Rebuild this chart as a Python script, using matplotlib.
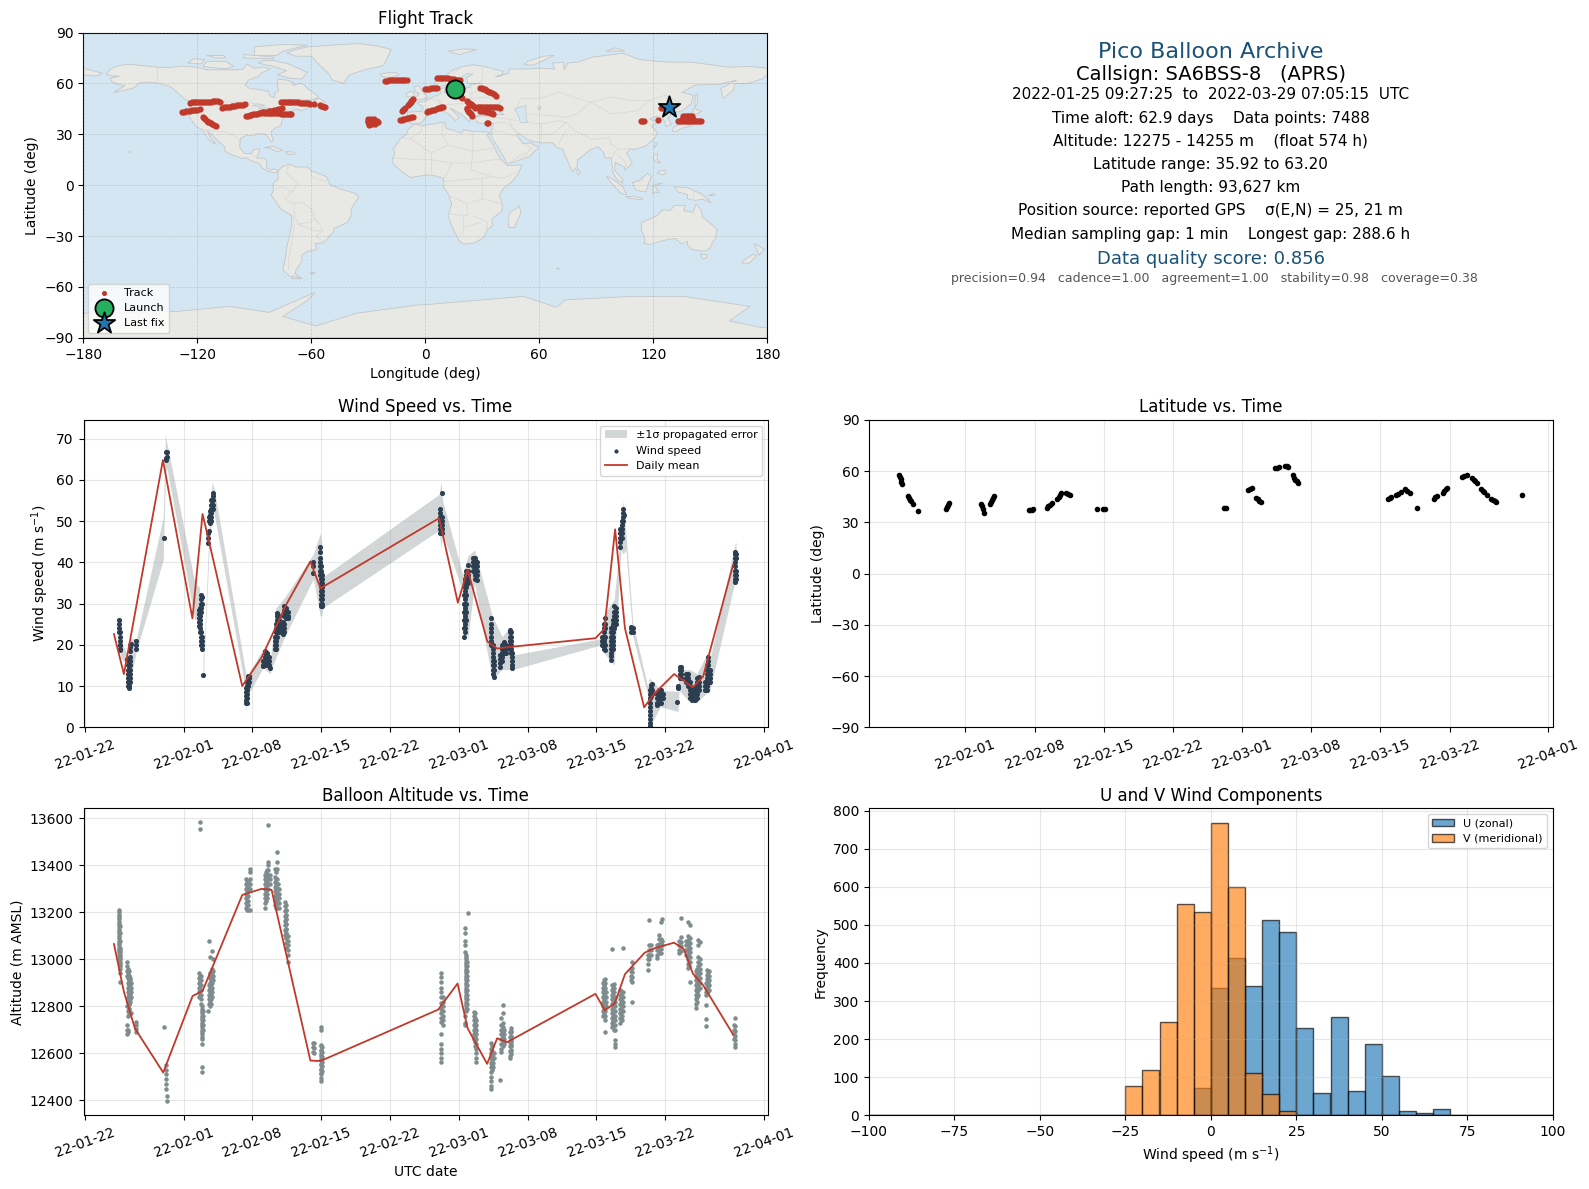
from datetime import datetime
import matplotlib
matplotlib.use("Agg")
import matplotlib.pyplot as plt
import matplotlib.dates as mdates
from matplotlib.patches import Polygon

W, H = 1589, 1189
OCEAN = "#d4e6f1"
LAND = "#e8e8e4"
COAST = "#c3c7c9"
BORDER = "#d9dad8"
RED = "#c0392b"
NAVY = "#2c3e50"
GREY = "#7f8c8d"
TITLE_BLUE = "#1a5276"

# ---- land outlines (lon, lat) ----
north_america = [(-168,65.5),(-166,68.3),(-162,70.3),(-156.5,71.3),(-148,70.4),(-141,69.6),(-135,69.3),(-128,70.2),(-120,69.5),(-115,68),(-108,68),(-100,68),(-96,68.3),(-94,71.5),(-90,69),(-85,69.5),(-81.5,68.5),(-86,66.3),(-88,64),(-93,62),(-94.8,59),(-92.5,57),(-88,56.5),(-82.5,55.2),(-82,52.9),(-79.5,51.3),(-79,54.5),(-77,56),(-78,58.7),(-77.5,62.4),(-73,62),(-70,61),(-69.5,58.8),(-65,60.2),(-61.5,56.5),(-57,53),(-56,51.7),(-60,50.2),(-65.5,50.2),(-67,49),(-64.5,49),(-65,47),(-61,46),(-65.5,43.7),(-67,45),(-70,43.8),(-70.5,41.7),(-74,40.5),(-75.5,38),(-76,35),(-78.5,33.9),(-81,32),(-81,29.5),(-80,26.5),(-81,25.2),(-82.7,28),(-84,30),(-89,30.3),(-90,29),(-94,29.5),(-97.3,27.5),(-97.7,22.5),(-95.5,18.8),(-91.5,18.5),(-90.5,21),(-87,21.5),(-88,18),(-88.8,15.9),(-84,15.8),(-83.3,12),(-83.7,10),(-81,9),(-79.5,9.6),(-77.4,8.7),(-78,7.4),(-80,7.3),(-81,7.8),(-83,8.2),(-85.8,10),(-87.5,13),(-91,14),(-94,16),(-97,15.9),(-102,18),(-105.5,20),(-105.5,22.5),(-109,26),(-112.5,30),(-114.8,31.7),(-113,28),(-110,24),(-112,25),(-115,28),(-117.1,32.5),(-120.5,34.5),(-122.5,37.5),(-124.3,40.3),(-124,46),(-122.5,48.5),(-127,51),(-130.5,54.5),(-134,58),(-140,60),(-146,60.8),(-151,60),(-153,57.5),(-158,56),(-164,54.7),(-158,58.7),(-162,59.5),(-165,61),(-166,63),(-161,64.2),(-165,64.5)]
south_america = [(-77.3,8.7),(-75,11),(-71.5,12.4),(-68,10.7),(-62,10.7),(-60,8.5),(-52,5),(-50,0),(-44,-2.5),(-37,-4.8),(-35,-7),(-39,-14),(-39,-18),(-41,-22),(-48,-25.5),(-48.7,-28),(-53.5,-34),(-58,-34.5),(-57,-38),(-62,-39),(-65,-41),(-65,-45),(-68,-50),(-68.5,-52.5),(-65,-55),(-70,-55),(-75,-50),(-73.5,-42),(-73,-37),(-70.5,-25),(-70.3,-18),(-76,-14),(-81,-6),(-80,-2.5),(-80,1),(-77.5,3.8),(-77.5,7)]
africa = [(-6,35.8),(-1,35.2),(10,37.2),(11,33.5),(15,32.3),(19,30.5),(20,32.7),(25,31.7),(31,31.5),(34,31),(32.5,29.5),(35.5,24),(37.3,20),(39.5,15.5),(43,12),(43.5,11.5),(51,12),(49,7),(46,2.5),(41,-2),(39,-6),(40.5,-11),(40.5,-15),(35,-20),(35.5,-24),(32.8,-26),(30.5,-31),(26,-34),(20,-34.8),(18,-33),(15,-27),(12,-18),(13.8,-11),(12,-5),(9.5,-1),(9.5,4),(5,5.5),(1,6),(-4,5.2),(-8,4.5),(-13,8.5),(-16.8,12.5),(-17.3,15),(-16,19),(-17,21),(-13,27.5),(-9.8,30),(-9,33)]
eurasia = [(-9,37),(-9.3,43),(-2,43.5),(-1,46),(-4.5,48.5),(1,50),(4,52),(8,54),(8.3,57),(10.5,57.5),(10,54.5),(14,54),(19,54.5),(21,57),(24,58),(24,59.5),(30,60),(22.5,60),(21.5,63),(25,65.5),(22,65.8),(17.5,62),(18.5,60),(16,56.3),(13,55.5),(11,59),(7,58),(5,60),(5.5,62),(10,64),(14,67.5),(18,69.5),(25,71),(31,70),(41,67),(40,64.5),(37,64),(44,66),(44,68.5),(54,68.5),(60,69),(68,68.5),(67,72),(73,72.5),(73,68),(75,72),(80,72.5),(88,75.5),(104,77.7),(113,74),(128,72.5),(140,72.5),(160,69.5),(170,70),(180,69),(180,65),(177,62.5),(170,60),(163,60),(162,56),(156.7,51),(155.5,57),(164,62),(155,59.5),(142,59),(135,54.7),(141,53),(140,48),(135,43.7),(130,42.5),(127.5,39.5),(129.5,36),(126.5,34.5),(126,37.5),(124.5,40),(121.5,39),(122,40.7),(118,39),(122.5,37),(119,35),(122,31),(121,28),(116,23),(110,21),(108,21.7),(106,19),(109,13),(105,8.7),(105,10.5),(100,13.5),(99.5,9),(103.5,4),(104,1.3),(101,3),(98.5,8),(98,16),(94.5,16),(94,19),(91,22.7),(87,21),(82,16.5),(80,15),(80,11),(77.5,8),(73,19),(72.5,21),(69,22.3),(67,25),(61.5,25),(57,25.7),(54,26.7),(50,30),(48,30),(50,26.5),(51.5,24.5),(56,25),(56.5,24),(59.8,22.5),(55,17),(45,13),(43,13),(39,21),(35,28),(34.7,31),(36,36.5),(30,36.3),(27,37),(26.5,40),(29,41),(35,42),(41.5,41.5),(37,45),(33,45),(30.5,46.5),(28,43),(28.5,41),(24,40.7),(23,37.5),(19.5,41.5),(13,45.5),(18,40),(16,38),(12,42),(8.5,44.3),(3,43),(0,39.7),(-2,36.8),(-5.5,36)]
chukotka = [(-180,65),(-173,64.3),(-170,66),(-175,67.5),(-180,69)]
australia = [(114,-22),(113.5,-26),(115.7,-32),(115,-34.3),(118,-35),(124,-33),(129,-31.7),(131.5,-31.5),(135,-34.7),(138,-33),(138,-35.5),(140.5,-38),(144,-38.5),(146.5,-39),(150,-37.3),(151,-34),(153,-31),(153.5,-26),(150,-22.5),(146,-19),(145.3,-15),(142.5,-10.8),(141,-16),(136,-15),(136.8,-12),(131,-12),(129,-15),(125,-14.5),(122,-18),(117,-20.5)]
antarctica = [(-180,-90),(-180,-75.4),(-131,-74.5),(-103,-71.5),(-82,-75),(-70,-69),(-58,-63.3),(-62,-68),(-75,-77.4),(-57.5,-83),(-36,-75.5),(-3,-70.5),(0,-70.5),(51.6,-65.6),(69,-72),(74,-67.6),(108,-65.6),(136,-65.6),(171,-71.5),(160,-80),(177,-84),(180,-84),(180,-90)]
greenland = [(-73,78),(-68,76),(-60,76),(-55,70),(-51,66),(-49,62),(-43,60),(-40,65),(-32,68),(-22,70.5),(-20,75),(-18,80),(-25,82),(-35,83.5),(-50,82.5),(-62,81.5),(-68,80)]
islands = [
    [(-80,73.5),(-72,71.5),(-62,66.5),(-65,62.5),(-71,63),(-78,65),(-73,67.5),(-80,70),(-88,72),(-85,73.5)],
    [(-117,70),(-105,68.5),(-101,70),(-105,73),(-115,73)],
    [(-125,72),(-118,71.5),(-116,74),(-122,74.5)],
    [(-90,76.5),(-78,76.5),(-75,79),(-62,82.5),(-75,83),(-90,81.5)],
    [(-96,75),(-80,74.5),(-80,75.5),(-95,77)],
    [(-110,75),(-105,75),(-106,76.5),(-115,76.5)],
    [(-59,47.7),(-53,46.8),(-53,49),(-56,51.5),(-58,50)],
    [(-85,22),(-80,23),(-75,20.5),(-78,19.8),(-82,22)],
    [(-74,19.8),(-69,19.5),(-68.5,18.5),(-72,18)],
    [(-24,65.5),(-20,66.2),(-15,66.3),(-13.7,65),(-18.5,63.5),(-22.5,64)],
    [(-156,20),(-155,19.5),(-155.8,19)],
    [(-5.5,50),(1.3,51.2),(0,53.5),(-2,56),(-3,58.6),(-6,58),(-5,55),(-3.2,54),(-5,52)],
    [(-10,52),(-6,52.2),(-6,55),(-8.5,55),(-10,54)],
    [(12,79),(20,80.3),(27,80),(18,77)],
    [(52,71),(57,70.8),(68,76.5),(62,76),(54,73)],
    [(95,79),(105,79),(100,81)],
    [(142,46),(143.5,49),(143,54),(142,53)],
    [(130,32),(131.5,31.3),(135,33.5),(140,35),(142,39.5),(141,41.5),(139.5,38.5),(136,36.5),(132,35),(130.5,33.8)],
    [(140,42),(141.5,45.5),(145.3,43.5),(143,42)],
    [(120.2,23),(121,22),(122,25),(121,25.2)],
    [(120,16),(120.5,18.5),(122.2,18.3),(122,15),(124,13),(121,13.7)],
    [(122,7),(126,6),(126.5,9),(123.5,8.5)],
    [(95.3,5.5),(98,4),(104,-1),(106,-5.8),(103,-4.8),(100,-1.5),(97,2.5)],
    [(105.5,-6.8),(110,-6.5),(114.5,-7.7),(114,-8.6),(108,-7.8)],
    [(109,1.5),(113,3),(117,7),(119,5),(117.5,1),(116,-4),(111,-3),(109.5,0)],
    [(119.5,-5.5),(120,0),(125,1.5),(121,-1),(123,-4.5),(121,-4)],
    [(131,-1),(138,-1.5),(145,-5),(147,-6.5),(150.5,-10.5),(146,-8.3),(142,-9),(138,-8),(138,-5.5),(133,-4)],
    [(173,-34.5),(178.5,-37.7),(175.3,-41.5),(174.7,-38.5)],
    [(172.7,-40.7),(174.3,-41.7),(170.5,-46),(166.7,-46),(168,-44)],
    [(144.7,-40.7),(148.3,-40.9),(148,-43),(146,-43.5)],
    [(49.3,-12),(50.4,-16),(47,-25),(44,-25),(43.5,-21),(44.5,-16),(48,-13.5)],
    [(80,9.7),(81.8,7.5),(80.6,6),(79.8,7.5)],
    [(-61,-51.8),(-58,-51.5),(-59,-52.3)],
    [(69,-49),(70.5,-49),(70,-49.7)],
    [(-70,-53.5),(-65,-55),(-70,-55)],
    [(152,-4.5),(152,-6),(149,-6)],
]
lakes = [
    [(47,45),(53,47),(53,40),(54,37),(50,37),(49,41)],
    [(-88,48),(-84.5,47),(-87,46.5),(-91,46.8)],
    [(-87.5,45.5),(-82,45.5),(-82,43.5),(-87,42)],
    [(59,46),(61,46.5),(60,44)],
]
borders = [
    [(-123,49),(-95,49),(-89,48),(-83,45.5),(-82.5,42),(-76,44),(-71,45),(-67,47)],
    [(-141,69.6),(-141,60),(-134,58)],
    [(-117,32.5),(-108,31.5),(-106,31.7),(-101,29.5),(-97.3,26)],
    [(-91,17.5),(-88.5,16)],
    [(-72,12),(-73,7),(-67,1),(-70,-4),(-74,-8),(-69,-11),(-65,-10),(-60,-14),(-58,-20),(-55,-24),(-54,-27),(-57.5,-30),(-53.5,-33.5)],
    [(-70,-18),(-69,-23),(-70,-33),(-72,-44),(-72,-50)],
    [(-60,8),(-60,5),(-52,2)],
    [(-80,-3),(-75,-1),(-70,-4)],
    [(-69,-11),(-69,-18),(-67,-23),(-62,-22),(-58,-20)],
    [(-67,-23),(-58,-27),(-54,-27)],
    [(-13,27.5),(-8,27.5),(-5,25),(3,19),(12,23.5),(25,20),(37,22)],
    [(-2,35),(-2,32),(-8,27.5)],
    [(9,37),(9,30),(12,23.5)],
    [(25,31.7),(25,20),(24,9),(35,5),(41,4),(48,8)],
    [(-16,16),(-5,15),(3,15),(14,13),(24,13),(36,15),(39,15)],
    [(3,19),(3,6)],[(14,13),(10,4)],[(9.5,2),(18,3),(30,4),(35,5)],
    [(30,4),(30,-8),(22,-11),(12,-6)],[(30,-8),(40,-11)],
    [(22,-11),(22,-18),(12,-17)],[(20,-18),(20,-28),(17,-29)],[(25,-18),(33,-22),(32,-26)],[(20,-25),(29,-22)],
    [(-2,43.3),(3,42.5)],[(-9,42),(-7,37)],[(3,51),(8,49),(7.5,47.5),(13,47.5),(17,48),(23,48),(30,46)],
    [(7,53.5),(6,51),(8,49)],[(14,54),(15,51),(24,51),(24,54)],[(24,54),(28,56),(28,60)],[(24,51),(32,52),(40,50),(38,47)],
    [(30,70),(30,62),(28,60)],[(18,69),(13,64),(12,59)],
    [(26,41),(44,39),(48,38)],[(36,36.5),(42,37),(45,35),(48,30)],[(35,31),(39,32),(47,29)],[(44,39),(46,34),(52,28)],
    [(52,17),(56,22),(52,24)],[(44,13),(52,19)],
    [(48,45),(50,51),(60,51),(70,55),(80,51),(87,49)],[(54,37),(61,36),(61,30),(61,25)],[(61,36),(70,38),(74,37)],
    [(61,30),(67,30),(71,34),(74,37)],[(54,42),(67,41),(74,40),(80,42),(87,49)],[(74,37),(79,32),(88,27),(97,28)],
    [(70,24),(74,32)],[(87,49),(98,52),(108,50),(118,50),(126,53),(135,48),(131,43)],[(87,49),(98,42),(112,44),(118,50)],
    [(97,28),(98,24),(102,21),(108,21.7)],[(98,16),(100,20),(102,21)],[(101,18),(105,14),(106,11)],[(124.5,40),(130,42.5)],[(125,38),(128.5,38.5)],
    [(141,-3),(141,-9)],[(115,3),(110,1.5)],
]

# ---- flight track (lon, lat) ----
track_points = [
    (-124,48.7),(-123,48.8),(-122,48.9),(-121,48.9),(-120,48.9),(-119,49),(-118,49),(-117,49),(-116,49.1),(-115,49.1),(-114,49.2),(-113,49.3),(-112,49.5),(-111,49.5),(-110,49.6),(-109,49.4),(-108.3,49.2),
    (-128,43.3),(-127,43.4),(-126,43.6),(-125,43.8),(-124,44),(-123,44.1),(-122,44.3),(-121,44.4),(-120,44.6),(-118.7,44.8),
    (-117.2,39.9),(-116.6,39.3),(-116,38.8),(-115,37.8),(-114.4,37.4),(-113.8,37),(-113,36.6),(-112.5,36.2),(-111.3,35.6),(-110.2,35),
    (-107,45.7),(-106,45.8),(-105,45.9),(-104,46),(-103,46.2),(-102,46.4),(-101,46.6),(-100,46.8),(-99,47),(-98,47.2),(-97,47.4),(-96,47.5),(-95,47.7),
    (-94.4,40.8),(-93.5,41),(-92.5,41.3),(-91.5,41.5),(-90.5,41.7),(-89.5,42),(-88.5,42.2),(-87.5,42.4),(-86.5,42.6),(-85.5,42.9),(-84.5,43.1),(-83.5,43.4),(-82.5,43.6),(-81.5,43.8),(-80.5,44),(-79.5,44.2),(-78.5,44.5),(-77.5,44.8),(-76.5,45.1),(-75.6,45.3),
    (-86,43),(-85,42.8),(-84,42.6),(-83,42.7),(-82,42.8),(-81,42.7),(-80,42.6),(-79,42.5),(-78,42.4),(-77,42.3),(-76,42.2),(-75,42.1),(-74,42),(-73,42),(-72,41.9),(-71,41.8),(-70.5,41.8),
    (-76,49),(-75,49),(-74,49),(-73,49),(-72,49),(-71,49),(-70,49),(-69,49),(-68,48.9),(-67,48.8),(-66,48.6),(-65,48.5),(-64,48.4),(-63,48.3),(-62,48.2),(-60.8,48),
    (-58.4,47.7),(-55.4,47),(-54.8,46.8),(-54.2,46.6),(-53.5,46.3),(-52.9,46),
    (-21,61.4),(-20,61.6),(-19,61.7),(-18,61.8),(-17,61.8),(-16,61.8),(-15,61.8),(-14,61.8),(-13,61.8),(-12,61.8),(-11,61.8),(-9.6,61.8),
    (-30,39),(-28.5,39),(-27,39),(-30,38),(-28.5,38),(-27,38),(-25.5,38),(-30,37),(-28.5,37),(-27,37),(-25.5,37),(-24.9,37.5),(-29.5,35.7),(-28,35.8),(-26.5,35.8),
    (-13.3,38.5),(-12.4,38.7),(-11.5,39),(-10.5,39.2),(-9.5,39.5),(-8.5,39.8),(-7.5,40.1),(-6.4,40.3),
    (-12.4,43.8),(-12,44.2),(-11.6,44.5),(-11.2,44.9),(-10.8,45.3),
    (-9,47.3),(-8.6,48),(-8.2,48.6),(-7.7,49.1),(-7.3,49.6),(-6.8,50),(-6.4,50.5),
    (0,56.5),(1,56.7),(2,56.8),(3,57),(4,57.2),(5,57.3),(6,57.5),
    (6,63),(7,63),(8,63),(9,63),(10,63),(11,63),(12,62.9),(13,62.8),(14,62.7),(15,62.5),(16,62.2),(17,62),(18.5,61.8),
    (0.8,43.4),(1.6,43.7),(2.5,44),(3.5,44.2),(4.5,44.5),(5.5,44.9),(6.5,45.2),(7.5,45.5),(8.5,45.8),(9.5,46),
    (18,52.6),(19,52),(19.5,51.5),
    (21.8,49.6),(22.4,49),(23,48.5),(23.8,47.8),(24.5,47),(25.2,46.4),(26,45.7),
    (21.8,45.3),(22.1,44.7),(22.5,44),(22.9,43.2),(23.3,42.5),(23.8,41.7),(24.4,40.8),
    (27,46),(28,46),(29,46),(30,46),(31,46),(32,46),(33,46),(34,46),(35,46),(36,46),(37,45.9),(38,45.8),(39.3,45.7),
    (29,43.8),(30,43.6),(31,43.5),(32,43.3),(33,43.2),(34,42.8),(35,42.5),(35.8,41.8),
    (29,57.5),(29.8,57.1),(30.5,56.8),(31.2,56.4),(32,56),(32.7,55.6),(33.5,55.2),(34.2,54.7),(35,54.2),(36,53.5),(37,52.7),
    (32.3,36.5),(32.8,36.5),
    (113.5,38),(114.3,38),(115,38),(122.6,38.5),(123.9,45.4),(125,45.4),
    (133,37.9),(134,37.9),(135,37.9),(136,37.8),(137,37.8),(138,37.8),(139,37.9),(140,37.8),(141,37.8),(142,37.8),(143,37.9),(144,37.9),(145,37.9),
    (135,39),(136,39),(137,39),(138,39),(139,39),(140,39),(141,39),
    (135.5,40.6),(136.5,40.7),(137.5,40.7),(138.5,40.7),(139.5,40.7),(140.5,40.7),
]
launch_lon, launch_lat = 15.8, 56.5
last_lon, last_lat = 128.4, 46.1

# ---- time series, x = days since 2022-01-22 ----
wind_columns = [
    (3.46,[26,25,24,23.2]),(3.52,[23,22,21,20]),(3.58,[20,19,18.7]),(4.2,[16.5]),
    (4.38,[15,14,13,12,11,10]),(4.45,[16,15,14,13,12,11,10,9.6]),(4.52,[17,16,15,14,13,12,11]),
    (4.6,[20,19.5,18.5]),(4.68,[20.3]),(5.15,[21,20,19]),(8.03,[46]),(8.2,[66.8,65.2,64.8]),(8.28,[66.8,65.6]),
    (11.6,[26.5,25.5,24.5,27.5,28.5]),(11.72,[23,24,25,26,27,28,29]),(11.8,[32,31,30,29,28,23,22,21,20]),
    (11.9,[31.5,30,22,21,20,19]),(12.0,[12.8]),(12.52,[44.8,46,47]),(12.62,[47.5,50,51]),
    (12.7,[49.5,50.5,51.5,52.5]),(12.82,[50,51,52,53,54,55]),(12.95,[53,54,55,56,56.7]),
    (16.35,[5.8,6.5,7.5,8.5,9.5]),(16.42,[6,7,8,9,10,11]),(16.55,[10,11,12,12.4]),(16.7,[11,12,12.5]),
    (18.1,[15,16,14.9]),(18.3,[15,16,17,18,18.4]),(18.5,[15,16,17,18]),(18.65,[15,16,17]),(18.75,[14.3]),
    (19.3,[19,20,21,22]),(19.4,[19,20,21,22,23,24,25]),(19.55,[22,23,24,25,26,27,27.6]),(19.7,[23,24,25,26,27]),
    (20.1,[22.5,23.5,24.5,25.5]),(20.25,[23,24,25,27,28,28.5,29.3]),(20.4,[26.5,27,28,29]),(20.6,[26.5,27,28]),
    (23.2,[37.5,39,40]),(23.9,[43.8,42.5,41,40,39,38,37]),(24.0,[39,38,37,36,35,34,33,32,31,30,29.5]),
    (24.1,[37,36,35,34,33,32,31,30,29.5]),
    (36.1,[47,48,49,50,51,52,53]),(36.25,[56.7,51,50,49,48,47]),
    (38.5,[22,24,26,28,30,32]),(38.6,[23,24,25,26,27,28,29,30,31,32,33,34,35,36]),(38.75,[26,28,30,32,34,35,36,37,38]),
    (38.9,[35,36,37,38,39.4]),(39.4,[38,39,40,41]),(39.6,[36,37,38,39,40,41]),(39.8,[35.7,37,38,39,40]),
    (41.3,[26.4,25,24,23,22,21,20]),(41.45,[20,19,18,17,16,15,14,13]),(41.55,[12.3,14,15,16]),
    (42.2,[14.7,15.5,16.5,17.5]),(42.4,[16,17,18,19,20]),(42.6,[18,19,20,20.8]),(42.75,[18,19,20]),
    (43.2,[19,20,21,22,23,23.6]),(43.35,[18,19,20,21,22,23]),(43.45,[14.3,15,16,17,18]),
    (52.6,[20,21,22]),(52.75,[19,20,21,22,23,24,25]),(52.9,[18.8,20,22,24,25,26.4]),
    (53.5,[16.3,17.2,18,19,20,21,22,23,24]),(53.65,[19,20,21,22,23,24,25,26]),(53.8,[24,25,26,27,28,29.3]),(53.95,[25,26,27,28,29]),
    (54.4,[43.8,45,46,47,48]),(54.55,[46,47,48,49,50]),(54.7,[50,51,52,53]),(54.8,[51.5]),
    (55.55,[23.2,24,24.4]),(55.7,[23.2,24]),
    (57.4,[0.2,1,2,3,4,5,6,7,8,9]),(57.55,[7.5,8.5,9.5,10.3]),(57.7,[8,9,10.5]),
    (58.2,[5.4,6,7,8]),(58.4,[6,7,8,9]),(58.6,[6,7,8,9]),(58.75,[7,8]),
    (60.2,[6.2]),(60.3,[9.5,10]),(60.5,[12,13,14,14.7]),(60.65,[12,13,14,14.7]),
    (61.1,[11,12,13]),(61.3,[10,11,12,13]),(61.5,[7,8,9,10,11]),(61.7,[6.6,7.5,8.5,9.5]),
    (62.0,[6.6,7.5,8.5,9.5]),(62.2,[7,8,9,10,11,12]),(62.4,[9,10,11,12.3]),
    (63.0,[9,10,11]),(63.2,[9,10,11,12,13,14,15]),(63.35,[11,12,13,14,15,16,17.1]),(63.5,[11,12,13,14]),
    (66.05,[35.3,36,37,38,39,40,41,42,42.6]),(66.15,[36,37,38,41,42]),
]
band_days = [3.45,3.6,4.2,4.35,4.55,5.2,7.93,8.15,8.3,11.15,11.6,11.9,12.0,12.6,12.9,13.1,16.3,16.35,16.6,18.1,18.8,19.4,20.3,23.2,23.9,24.05,24.2,36.0,36.2,36.35,38.4,38.9,39.6,41.4,42.4,43.3,43.5,52.5,52.8,53.8,54.5,54.7,55.0,55.7,57.2,57.4,58.5,60.3,60.4,61.5,62.2,63.3,63.5,66.0,66.2]
band_hi = [28,21,18,13,21.5,21.5,51,71,69,35,34,23,14.5,48,59.5,58,13.5,10,13,19,16,29,31.5,42,47,45,36.5,56.5,59.5,55,37,41.5,43,27,22,24.5,17.5,21.5,27.5,31,48,55,47,25.5,10,12,9,8.7,14,14,13,18,16,43.5,45]
band_lo = [22,17,15,9.5,11,18.5,40.6,61,63,26,27,19,11.5,43,52,52,9,4,8,14.5,13,17,22,36,27,27,29,47.8,43.5,47,33,21,35,11.5,14,14,14,20,18,15,43,42,43,22,8,0,5,3.8,9,6,6,8.5,8.5,34.5,35]
mean_days_wind = [2.92,3.93,7.9,10.9,11.93,12.44,15.97,17.93,20.5,22.9,23.93,36.0,37.9,38.9,40.9,41.9,42.9,51.9,52.8,53.9,54.9,56.85,57.9,59.9,61.8,62.85,65.9]
mean_wind = [22.6,12.9,64.8,26.4,51.7,46.6,10,16.9,30,40.2,33.7,50.7,30.2,38.2,20.8,19.1,19.4,21.6,23.8,48,24,4.85,8.2,12.9,9.7,12.3,39.4]

alt_columns = [
    (3.42,[13210,13190,13170,13150,13130,13110,13090,13070,13050,13030]),(3.46,[13200,13180,13160,13140,13120,13100,13080,13060,13040,13020,13000]),(3.5,[13140,13110,13080,13050,13030,13010,12990,12970]),(3.58,[13040,13020,13000,12980,12960,12940,12905]),
    (4.25,[12990,12970,12950,12930,12680,12700,12720,12800]),(4.35,[12960,12940,12920,12900,12880,12860,12840,12820,12800,12780,12760,12700,12690]),(4.4,[12950,12930,12910,12890,12870,12850,12830,12810,12790,12770]),
    (4.45,[12930,12910,12890,12870,12850,12830,12810,12790]),(4.55,[12920,12900,12880,12860,12840,12820,12770]),(4.6,[12910,12890,12870,12850,12830]),(4.65,[12900,12880,12860,12840,12770]),
    (5.2,[12735,12720,12705,12690]),(8.03,[12710]),(8.2,[12550,12530,12510,12490,12470,12450]),(8.3,[12420,12395]),
    (11.66,[13583,13553]),(11.6,[12940,12920,12900,12880,12860,12840]),(11.68,[12930,12910,12890,12870,12850]),(11.75,[12930,12910,12890,12870,12850,12830,12810]),
    (11.83,[12800,12780,12760,12740,12720,12700,12680,12660,12640,12540,12522]),(11.9,[12790,12770,12750,12730,12710,12690,12670]),(11.95,[12780,12760,12740,12720,12700]),
    (12.6,[13080]),(12.85,[13035]),(12.7,[13010]),(12.95,[13000]),(12.5,[12778]),
    (12.55,[12890,12870,12850,12830,12810]),(12.7,[12940,12920,12900,12880,12860,12840,12820,12800]),(12.78,[12930,12910,12890,12870,12850,12830,12810]),(12.85,[12960,12940,12920,12900,12880,12860,12840]),(13,[12950,12930,12910]),
    (16.4,[13340,13320,13300,13280,13260,13240,13220]),(16.48,[13330,13310,13290,13270,13250,13230,13210]),(16.55,[13330,13310,13290,13270,13250,13230,13210]),(16.75,[13385,13370,13340,13320,13300,13210]),
    (18.3,[13360,13340,13320,13300,13280,13260,13240,13217]),(18.38,[13370,13350,13330,13310,13290,13270,13250]),(18.45,[13380,13360,13340,13320,13300,13280,13260]),(18.6,[13570,13415,13400,13380,13360,13340,13320,13300]),(18.8,[13360,13340,13320]),
    (19.5,[13458,13413]),(19.35,[13385,13350,13330,13310,13290,13270,13250,13230]),(19.45,[13370,13340,13320,13300,13280,13260,13240,13220]),(19.55,[13385,13340,13320,13300,13280,13260,13240,13220]),(19.65,[13320,13300,13280,13260,13240]),(19.75,[13300,13280,13260,13240,13220]),
    (20.3,[13245,13225,13205,13185,13165,13145,13125,13105]),(20.38,[13230,13210,13190,13170,13150,13130,13110,13090]),(20.45,[13210,13190,13170,13150,13130,13110,13090,13070,13050]),(20.6,[13100,13080,13060,13040,13020,12990]),
    (23.15,[12642,12625,12605]),(23.3,[12642,12622,12600]),(23.95,[12713,12700,12635,12615,12595,12575,12555,12535,12515,12495,12480]),(24.02,[12630,12610,12590,12570,12550,12530,12510]),(24.1,[12625,12605,12585,12565,12545,12525]),
    (36.2,[12940,12925,12905,12880,12860,12840,12815,12790,12770,12750,12735,12680,12640,12620,12600,12580,12565]),(36.35,[12840,12820,12800,12780,12760,12740,12720]),
    (38.9,[13196]),(38.6,[13132,13110,13080,13060,13033,12760,12730,12720]),(38.7,[13020,13000,12980,12960,12940,12920,12900,12880,12860,12840,12820,12800,12780]),(38.78,[13010,12990,12970,12950,12930,12910,12890,12870,12850,12830,12810,12790]),(38.85,[12990,12970,12950,12930,12910,12890,12870,12850,12830,12810,12790]),
    (39.5,[12777,12760,12740,12720,12700,12680,12660]),(39.6,[12770,12750,12730,12710,12690,12670,12650,12630]),(39.7,[12740,12720,12700,12680,12660,12640,12620,12600,12580,12565]),
    (41.25,[12642,12620,12600,12580,12560,12540,12520,12500,12480,12460,12450]),(41.35,[12630,12610,12590,12570,12550,12530]),(41.45,[12600,12580,12560,12540]),(41.6,[12600,12580]),(42.2,[12486]),
    (42.3,[12750,12720,12700,12680,12660,12640,12620,12607]),(42.45,[12806,12770,12730,12710,12690,12670,12650,12630]),(42.6,[12700,12680,12660,12640]),
    (43.2,[12690,12670,12650,12630,12610,12590,12580]),(43.28,[12695,12675,12655,12635,12615,12595]),(43.35,[12706,12690,12670,12650,12630,12610]),
    (52.7,[12900,12880,12860,12840,12820,12800,12780,12760]),(52.78,[12910,12890,12870,12850,12830,12810,12790,12770]),(52.85,[12918,12900,12880,12860,12840,12820,12800,12780,12760,12740,12690]),(53.0,[12860,12840,12820,12800]),
    (53.6,[13045,12890,12870,12850,12830,12810,12790,12770,12750,12730,12710]),(53.68,[12880,12860,12840,12820,12800,12780,12760,12740,12720]),(53.75,[12897,12880,12860,12840,12820,12800,12780,12760,12740,12720,12700]),(53.9,[12840,12820,12800,12780,12760,12740,12720,12700,12657,12640,12628]),
    (54.4,[12870,12850,12830,12810,12790,12770,12750,12730]),(54.48,[12865,12845,12825,12805,12785,12765,12745]),(54.55,[12860,12840,12820,12800,12780,12760,12740]),(54.75,[13050,12860,12840,12820,12800,12780]),
    (55.5,[12950,12930,12910]),(55.6,[12990,12965,12945,12925,12905,12820]),
    (57.2,[13020,13000,12980,12955]),(57.35,[13166,13060,13040,13020,13000]),(57.5,[13060,13040,13020]),
    (58.2,[13060,13040,13020,13005]),(58.35,[13105,13085,13065,13045,13025]),(58.55,[13160,13085,13065,13045,13025]),(58.65,[13170,13080,13060]),
    (60.4,[13080,13060,13040,13025]),(60.6,[13175,13096,13075,13055,13035]),(61.15,[13080,13060,13040,13020]),(61.3,[13160,13100,13080,13060,13040,13020,13000,12980,12962]),(61.4,[13090,13070,13050,13030,13010,12990,12970]),
    (61.5,[13145,13090,13070,13050,13030,13010,12990,12905]),(62.1,[12950,12930,12910,12890,12870,12850,12830,12810,12792]),(62.2,[12960,12940,12920,12900,12880,12860,12840,12820]),(62.3,[13082,13060,13010,12990,12970,12950,12930,12910,12890,12870,12850]),(62.5,[13075,13000,12980,12960,12940,12920,12900,12880]),
    (63.1,[12900,12880,12860,12850,12805,12745,12715]),(63.2,[12955,12935,12915,12895,12875,12855]),(63.3,[12945,12925,12905,12885,12865]),(63.4,[12950,12930,12910,12890,12870]),
    (66.0,[12721,12700,12680,12660]),(66.1,[12750,12715,12695,12675,12655,12640,12628]),
]
mean_days_alt = [2.92,3.93,5.05,7.93,10.92,11.93,15.97,17.93,18.95,22.9,23.93,35.9,37.87,38.9,40.88,41.9,42.9,51.9,52.85,53.86,54.9,56.9,57.9,59.9,60.9,61.8,62.85,65.9]
mean_alt = [13065,12862,12706,12518,12844,12865,13274,13300,13296,12569,12567,12786,12897,12706,12555,12664,12647,12853,12783,12812,12937,13028,13047,13071,13043,12940,12890,12680]

lat_points = [
    (3.3,57.5),(3.37,56.4),(3.45,55.2),(3.52,53.8),(3.6,52.5),(4.2,45.5),(4.3,44.4),(4.4,43.4),(4.5,42.4),(4.65,40.8),(5.2,36.5),
    (8,38),(8.1,39.2),(8.2,40.4),(8.3,41.6),(11.55,40.8),(11.65,39.4),(11.75,38),(11.9,35.7),(12.5,40.8),(12.6,42),(12.7,43.3),(12.8,44.5),(12.9,45.7),
    (16.4,37),(16.55,37.2),(16.7,37.4),(16.8,37.6),(18.25,38.6),(18.4,39.4),(18.6,40.3),(18.75,41.2),(19.3,43.5),(19.45,45),(19.6,46),(19.7,47),(20.15,47),(20.4,46.6),(20.6,46),
    (23.3,37.6),(23.9,38),(24.1,38),(36.2,38.2),(36.35,38.2),(38.65,49),(38.8,49.5),(39,50),(39.45,44.5),(39.6,43.5),(39.75,42.8),(39.9,42),
    (41.35,61.8),(41.5,62),(41.7,62.2),(42.3,63),(42.5,62.8),(42.65,62.4),(43.2,57.5),(43.3,56.2),(43.4,55),(43.55,54),(43.65,53),
    (52.8,43.5),(52.95,44.1),(53.1,44.7),(53.6,46),(53.8,46.8),(54.05,47.8),(54.5,49.6),(54.7,48.5),(54.95,47),(55.75,38.2),
    (57.4,44),(57.55,44.7),(57.7,45.5),(58.3,47.5),(58.45,48.5),(58.6,49.3),(58.75,50.2),(60.3,56.5),(60.5,57.1),(60.75,57.8),
    (61.25,56),(61.45,55),(61.6,54),(61.75,53),(62.2,49.6),(62.35,48.6),(62.5,47.8),(62.75,46),(63.2,44),(63.4,43.4),(63.55,42.8),(63.7,42),(66.3,46),
]

# ---- histogram, 5 m/s bins ----
bin_edges = list(range(-100, 105, 5))
u_lefts = [-10,-5,0,5,10,15,20,25,30,35,40,45,50,55,60,65]
u_counts = [0,71,334,413,339,512,481,229,58,258,63,187,102,10,5,16]
v_lefts = [-25,-20,-15,-10,-5,0,5,10,15,20]
v_counts = [78,118,246,555,534,768,599,112,55,12]

info_lines = [
    ("Pico Balloon Archive", 16, TITLE_BLUE, 51.7, 1210.5),
    ("Callsign: SA6BSS-8   (APRS)", 14, "black", 74, 1210.5),
    ("2022-01-25 09:27:25  to  2022-03-29 07:05:15  UTC", 11, "black", 94.7, 1210.7),
    ("Time aloft: 62.9 days    Data points: 7488", 11, "black", 118, 1210.7),
    ("Altitude: 12275 - 14255 m    (float 574 h)", 11, "black", 141, 1210.7),
    ("Latitude range: 35.92 to 63.20", 11, "black", 164.5, 1210.7),
    ("Path length: 93,627 km", 11, "black", 187.5, 1210.7),
    ("Position source: reported GPS    σ(E,N) = 25, 21 m", 11, "black", 211, 1210.7),
    ("Median sampling gap: 1 min    Longest gap: 288.6 h", 11, "black", 234, 1210.7),
    ("Data quality score: 0.856", 13, TITLE_BLUE, 258.5, 1210.7),
    ("precision=0.94   cadence=1.00   agreement=1.00   stability=0.98   coverage=0.38", 9, "#555555", 279, 1214),
]
tick_dates = [(2022,1,22),(2022,2,1),(2022,2,8),(2022,2,15),(2022,2,22),(2022,3,1),(2022,3,8),(2022,3,15),(2022,3,22),(2022,4,1)]

day0 = mdates.date2num(datetime(2022, 1, 22))
def to_x(days):
    return [day0 + d for d in days]

def expand(columns):
    xs, ys = [], []
    for d, vals in columns:
        for v in vals:
            xs.append(day0 + d)
            ys.append(v)
    return xs, ys

def axes_px(left, top, width, height):
    return fig.add_axes([left / W, 1 - (top + height) / H, width / W, height / H])

def time_axis(ax, xlim):
    ax.set_xticks([mdates.date2num(datetime(*d)) for d in tick_dates])
    # set_xticks widens the view, so the limits have to come after it
    ax.set_xlim(day0 + xlim[0], day0 + xlim[1])
    ax.xaxis.set_major_formatter(mdates.DateFormatter("%y-%m-%d"))
    ax.tick_params(axis="x", labelrotation=20)
    ax.grid(True, alpha=0.3)

fig = plt.figure(figsize=(W / 100, H / 100), dpi=100)

# map
ax = axes_px(83.3, 32.5, 684, 305.3)
ax.set_facecolor(OCEAN)
land = [north_america, south_america, africa, eurasia, chukotka, australia, antarctica, greenland] + islands
for poly in land:
    ax.add_patch(Polygon(poly, closed=True, fc=LAND, ec=COAST, lw=0.6, zorder=1))
for poly in lakes:
    ax.add_patch(Polygon(poly, closed=True, fc=OCEAN, ec=COAST, lw=0.5, zorder=1.1))
for line in borders:
    ax.plot([p[0] for p in line], [p[1] for p in line], color=BORDER, lw=0.6, zorder=1.2)
ax.grid(True, color="gray", lw=0.5, ls="--", alpha=0.3, zorder=1.3)
ax.set_axisbelow(False)
ax.scatter([p[0] for p in track_points], [p[1] for p in track_points], s=12, color=RED, label="Track", zorder=3)
ax.scatter([launch_lon], [launch_lat], s=170, color="#27ae60", edgecolor="black", lw=1.3, label="Launch", zorder=4)
ax.scatter([last_lon], [last_lat], s=260, marker="*", color="#1f77b4", edgecolor="black", lw=1.3, label="Last fix", zorder=4)
ax.set_xticks(range(-180, 181, 60))
ax.set_yticks(range(-90, 91, 30))
ax.set_xlim(-180, 180)
ax.set_ylim(-90, 90)
ax.set_xlabel("Longitude (deg)")
ax.set_ylabel("Latitude (deg)")
ax.set_title("Flight Track")
leg = ax.legend(loc="lower left", fontsize=8, labelspacing=0.45, borderaxespad=0.45)
leg.legend_handles[0].set_sizes([7])

# summary text
for text, size, color, y, x in info_lines:
    fig.text(x / W, 1 - y / H, text, ha="center", va="center", fontsize=size, color=color)

# wind speed
ax = axes_px(83.5, 420, 684, 307.3)
ax.fill_between(to_x(band_days), band_lo, band_hi, color=GREY, alpha=0.35, lw=0, label="±1σ propagated error")
wx, wy = expand(wind_columns)
ax.scatter(wx, wy, s=7, color=NAVY, label="Wind speed", zorder=2)
ax.plot(to_x(mean_days_wind), mean_wind, color=RED, lw=1.3, label="Daily mean", zorder=3)
time_axis(ax, (-0.18, 69.4))
ax.set_ylim(0, 74.5)
ax.set_ylabel("Wind speed (m s$^{-1}$)")
ax.set_title("Wind Speed vs. Time")
leg = ax.legend(loc="upper right", fontsize=8)
leg.legend_handles[1].set_sizes([4])

# latitude
ax = axes_px(869.3, 420, 683.7, 307.3)
ax.scatter(to_x([p[0] for p in lat_points]), [p[1] for p in lat_points], s=9, color="black", zorder=2)
time_axis(ax, (0.27, 69.47))
ax.set_yticks(range(-90, 91, 30))
ax.set_ylim(-90, 90)
ax.set_ylabel("Latitude (deg)")
ax.set_title("Latitude vs. Time")

# altitude
ax = axes_px(83.5, 808.3, 684, 307)
ax_x, ax_y = expand(alt_columns)
ax.scatter(ax_x, ax_y, s=5, color=GREY, zorder=2)
ax.plot(to_x(mean_days_alt), mean_alt, color=RED, lw=1.3, zorder=3)
time_axis(ax, (-0.18, 69.4))
ax.set_ylim(12336, 13643)
ax.set_xlabel("UTC date")
ax.set_ylabel("Altitude (m AMSL)")
ax.set_title("Balloon Altitude vs. Time", pad=5.3)

# histogram
ax = axes_px(868.8, 808.3, 684, 307)
ax.hist(u_lefts, bins=bin_edges, weights=u_counts, alpha=0.65, color="#1f77b4", edgecolor="black", label="U (zonal)")
ax.hist(v_lefts, bins=bin_edges, weights=v_counts, alpha=0.65, color="#ff7f0e", edgecolor="black", label="V (meridional)")
ax.set_xticks(range(-100, 101, 25))
ax.set_xlim(-100, 100)
ax.set_ylim(0, 806)
ax.set_xlabel("Wind speed (m s$^{-1}$)")
ax.set_ylabel("Frequency")
ax.set_title("U and V Wind Components", pad=5.3)
ax.grid(True, alpha=0.3)
ax.legend(loc="upper right", fontsize=8)

fig.savefig("out.png", dpi=100)
